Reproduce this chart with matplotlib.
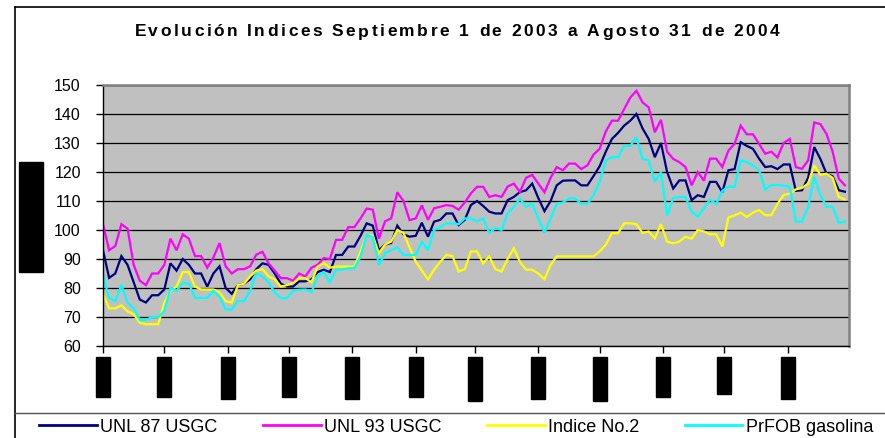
import pandas as pd
import matplotlib
matplotlib.use('Agg')
import matplotlib.pyplot as plt
import matplotlib.dates as mdates
from matplotlib.font_manager import FontProperties
from matplotlib.lines import Line2D
from matplotlib.patches import Rectangle
from matplotlib.transforms import blended_transform_factory

# Index values, sampled every 3 days from Sep 1 2003
dates = pd.date_range('2003-09-01', periods=122, freq='3D')

unl87 = [93, 83.5, 85, 91, 88, 82, 76, 75, 77.5, 77.5, 79.5, 88.5, 86, 90, 88, 85, 85, 80.5, 85, 87.5,
         80, 78, 81, 81.5, 83, 86.5, 88.5, 88, 85, 81.5, 80.5,
         80.5, 82.3, 82.3, 83, 85.5, 86.3, 85.5, 91.4, 91.4, 94.3, 94.3, 98, 102.3, 101.5, 93, 95, 95.5,
         101.5, 98.5, 97.7, 98, 102.5, 97.7, 102.9, 103.5, 105.7, 105.7, 101.7, 103.5,
         108.6, 110, 108.3, 106.3, 105.7, 105.7, 110.3, 111.4, 113.1, 113.7, 116, 111, 106.5, 110, 115.4,
         117, 117.1, 117.1, 115.4, 115.4, 118.6, 122, 127, 131.4, 133.5, 136, 137.7, 140, 135, 131.4,
         125.1, 130, 120, 114.3, 117.1, 117.1, 110.3, 112, 111.4, 116.6, 116.6, 113, 120.6, 121, 130.3,
         129, 128, 124.6, 121.7, 122, 121, 122.6, 122.6, 113.5, 113.7, 118, 128.6, 124.5, 119.4, 118.5,
         113.7, 113.2]

unl93 = [102, 93, 94.5, 102, 100.5, 88, 82.5, 81, 85, 85, 88, 97, 93, 98.5, 97, 91, 91, 87, 90.5, 95.5,
         87.5, 85, 86.5, 86.5, 87.5, 91.5, 92.5, 88.5, 86, 83.4, 83.4,
         82.5, 85, 84, 87, 88, 90.3, 90, 96.6, 96.6, 101, 101, 104, 107.4, 107, 97, 103, 104, 113, 110,
         103.4, 104, 108.5, 103.5, 107.5, 108, 108.6, 108.3, 107, 109.5,
         112.6, 114.9, 114.9, 111.4, 112, 111.4, 115, 116, 113.1, 118, 119, 116, 113, 118, 121.7, 120.6,
         122.9, 122.9, 121, 122.3, 126, 128, 134, 137.7, 137.7, 141.7, 145.7, 148, 144, 142.3,
         133.7, 138, 127, 124.5, 123.4, 121.7, 115.4, 120, 117, 124.6, 124.6, 121.7, 127.4, 129.7, 136,
         133, 133, 129.7, 126.3, 127, 125, 130, 131.4, 121.7, 121.1, 124, 137.1, 136.5, 133.1, 127,
         117.7, 115.4]

indice2 = [78, 73, 73, 74, 72, 71, 68, 67.5, 67.5, 67.5, 75, 79, 80.5, 85.5, 85.5, 80.5, 79.5, 79.5, 79.5,
           78.5, 75.5, 75, 81, 81.5, 84, 86, 86.5, 84, 83, 80.5, 81,
           81.7, 83.4, 83.4, 82, 87.4, 88.6, 87, 87.4, 87.4, 87.4, 87.4, 92.6, 98.3, 98, 92, 95, 96, 100,
           99, 94, 89.1, 86, 83, 86.3, 89, 91.4, 91, 85.7, 86.5,
           92.6, 92.6, 88.5, 90.9, 86.5, 85.7, 90, 93.7, 89, 86.3, 86.3, 85, 83, 88, 90.9, 90.9, 90.9,
           90.9, 90.9, 90.9, 90.9, 92.6, 94.9, 98.9, 98.9, 102.3, 102.3, 102, 99, 99.5,
           97.1, 102, 96, 95.4, 96, 97.7, 97, 100, 99.5, 98.5, 98.5, 94.3, 104.3, 105, 106, 104.5, 106,
           106.9, 105.1, 105.1, 109, 112, 112.6, 114, 114.5, 116, 122.3, 119, 119.4, 118, 111.4, 110.5]

prfob = [84.5, 76.5, 75.5, 81, 75, 73, 69, 69, 70, 70, 72, 80, 79, 81.8, 81.5, 76.6, 76.6, 76.6, 79, 77,
         72.6, 72.6, 75.5, 75.5, 79, 85, 84, 82, 78.4, 76.5, 76.5,
         79, 79.4, 79.5, 78.5, 84, 85.5, 82, 86.3, 86.3, 86.8, 86.8, 90.9, 98.3, 97.5, 88, 92, 93, 94,
         91.4, 91.4, 91.4, 96, 93, 100, 101, 102.3, 102.3, 102, 104,
         104, 103, 104, 99, 100.6, 100, 105.7, 108, 110.9, 108, 109.1, 104, 99, 104, 109, 109.5, 110.9,
         110.9, 109, 109, 112, 116.6, 124, 125.1, 125.1, 129, 129, 132, 124.5, 124,
         116.6, 120, 105, 111, 111.4, 111.4, 106.3, 104.6, 107.5, 110.5, 109, 113.5, 114.9, 114.9, 124,
         123.4, 122.3, 120.6, 114, 115.5, 115.5, 115.3, 114.9, 102.9, 102.9, 108, 118.3, 112, 108, 108,
         102.5, 102.9]

series = [('UNL 87 USGC', unl87, '#000080'),
          ('UNL 93 USGC', unl93, '#FF00FF'),
          ('Indice No.2', indice2, '#FFFF00'),
          ('PrFOB gasolina', prfob, '#00FFFF')]

title = 'Evolución Indices Septiembre 1 de 2003 a Agosto 31 de 2004'

# lengths (px) of the blacked-out month labels under each tick
label_len = [40, 40, 42, 40, 42, 40, 44, 42, 44, 40, 37, 42]

W, H = 885, 438
fig = plt.figure(figsize=(W / 100, H / 100), dpi=100)
fig.patch.set_facecolor('white')
ax = fig.add_axes([103 / W, 1 - 346 / H, 746 / W, 261 / H])
ax.set_facecolor('#C0C0C0')

for name, vals, col in series:
    ax.plot(dates, vals, color=col, lw=1.6, label=name, solid_joinstyle='miter')

ax.set_xlim(pd.Timestamp('2003-09-01'), pd.Timestamp('2004-08-31'))
ax.set_ylim(60, 150)
ax.set_yticks(range(60, 151, 10))
ax.yaxis.grid(True, color='black', lw=0.9)
ax.set_axisbelow(True)

ticks = pd.date_range('2003-09-01', '2004-08-01', freq='MS')
ax.set_xticks(ticks)
ax.set_xticklabels([])
ax.tick_params(axis='both', direction='out', length=5, width=1, color='black')
ax.tick_params(axis='y', pad=11, labelsize=11.5)
for lab in ax.get_yticklabels():
    lab.set_fontfamily('Liberation Sans')

for s in ['left', 'bottom']:
    ax.spines[s].set_color('black')
    ax.spines[s].set_linewidth(1)
for s in ['top', 'right']:
    ax.spines[s].set_color('#808080')
    ax.spines[s].set_linewidth(1.8)

# black blocks where the month labels sit
tr = blended_transform_factory(ax.transData, fig.transFigure)
half = pd.Timedelta(days=3.4)
for t, ln in zip(ticks, label_len):
    ax.add_patch(Rectangle((mdates.date2num(t - half), 1 - (357 + ln) / H),
                           mdates.date2num(t + half) - mdates.date2num(t - half), ln / H,
                           transform=tr, color='black', clip_on=False))

# y axis title block
fig.patches.append(Rectangle((19 / W, 1 - 272 / H), 24 / W, 110 / H,
                             transform=fig.transFigure, color='black'))

# chart frame and legend separator
fig.add_artist(Line2D([15 / W, 15 / W], [0, 1 - 7 / H], color='black', lw=1.2))
fig.add_artist(Line2D([15 / W, 1], [1 - 7 / H, 1 - 7 / H], color='black', lw=1.2))
fig.add_artist(Line2D([15 / W, 1], [1 - 413 / H, 1 - 413 / H], color='#555555', lw=1))

leg = fig.legend(loc='center left', bbox_to_anchor=(39 / W, 1 - 427 / H), ncol=4, frameon=False,
                 prop=FontProperties(family='Liberation Sans', size=13), borderpad=0,
                 borderaxespad=0, handlelength=3.2, handletextpad=0.2, columnspacing=2.5)
for h in leg.get_lines():
    h.set_linewidth(2)

# letter-spaced bold title
fig.canvas.draw()
r = fig.canvas.get_renderer()
tprop = FontProperties(family='Liberation Sans', weight='bold', size=12.5)
base = r.get_text_width_height_descent('xx', tprop, ismath=False)[0]
adv = [r.get_text_width_height_descent('x' + c + 'x', tprop, ismath=False)[0] - base for c in title]
gap = 2.5
total = sum(adv) + gap * (len(title) - 1)
x = 457 - total / 2
for c, a in zip(title, adv):
    fig.text(x / W, 1 - 32 / H, c, fontproperties=tprop, ha='left', va='center')
    x += a + gap

fig.savefig('out.png', dpi=100)
